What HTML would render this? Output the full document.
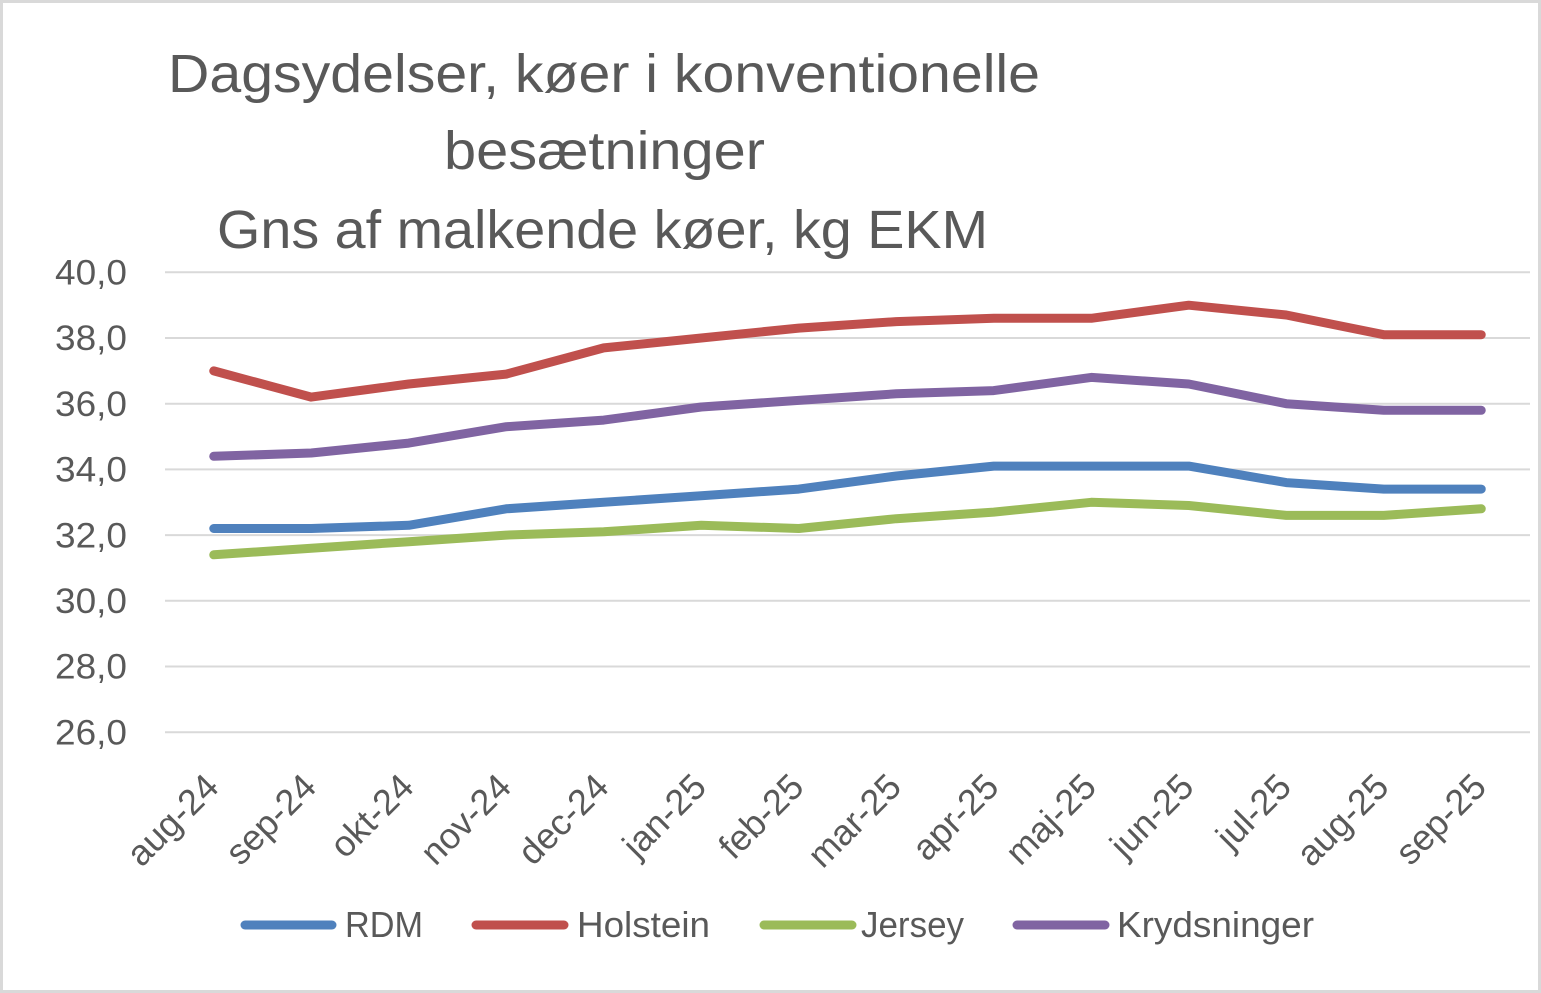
<!DOCTYPE html>
<html>
<head>
<meta charset="utf-8">
<style>
html,body{margin:0;padding:0;background:#fff;}
svg{display:block;}
text{font-family:"Liberation Sans",sans-serif;fill:#595959;}
</style>
</head>
<body>
<svg width="1541" height="993" viewBox="0 0 1541 993" xmlns="http://www.w3.org/2000/svg">
<rect x="0" y="0" width="1541" height="993" fill="#fff"/>
<rect x="1.5" y="1.5" width="1538" height="990" fill="none" stroke="#d9d9d9" stroke-width="3"/>

<!-- Title -->
<text x="168" y="92" font-size="54" textLength="872" lengthAdjust="spacingAndGlyphs">Dagsydelser, køer i konventionelle</text>
<text x="444" y="169" font-size="54" textLength="321" lengthAdjust="spacingAndGlyphs">besætninger</text>
<text x="217" y="248" font-size="54" textLength="771" lengthAdjust="spacingAndGlyphs">Gns af malkende køer, kg EKM</text>

<!-- Gridlines -->
<g stroke="#d9d9d9" stroke-width="2">
<line x1="165" y1="272.3" x2="1530" y2="272.3"/>
<line x1="165" y1="338" x2="1530" y2="338"/>
<line x1="165" y1="403.7" x2="1530" y2="403.7"/>
<line x1="165" y1="469.4" x2="1530" y2="469.4"/>
<line x1="165" y1="535.1" x2="1530" y2="535.1"/>
<line x1="165" y1="600.8" x2="1530" y2="600.8"/>
<line x1="165" y1="666.5" x2="1530" y2="666.5"/>
<line x1="165" y1="732.2" x2="1530" y2="732.2"/>
</g>

<!-- Y labels -->
<g font-size="35" text-anchor="end">
<text x="127" y="284.5" textLength="72" lengthAdjust="spacingAndGlyphs">40,0</text>
<text x="127" y="350.2" textLength="72" lengthAdjust="spacingAndGlyphs">38,0</text>
<text x="127" y="415.9" textLength="72" lengthAdjust="spacingAndGlyphs">36,0</text>
<text x="127" y="481.6" textLength="72" lengthAdjust="spacingAndGlyphs">34,0</text>
<text x="127" y="547.3" textLength="72" lengthAdjust="spacingAndGlyphs">32,0</text>
<text x="127" y="613" textLength="72" lengthAdjust="spacingAndGlyphs">30,0</text>
<text x="127" y="678.7" textLength="72" lengthAdjust="spacingAndGlyphs">28,0</text>
<text x="127" y="744.4" textLength="72" lengthAdjust="spacingAndGlyphs">26,0</text>
</g>

<!-- X labels -->
<g font-size="36" text-anchor="end">
<text transform="translate(220.75,789) rotate(-45)">aug-24</text>
<text transform="translate(318.25,789) rotate(-45)">sep-24</text>
<text transform="translate(415.75,789) rotate(-45)">okt-24</text>
<text transform="translate(513.25,789) rotate(-45)">nov-24</text>
<text transform="translate(610.75,789) rotate(-45)">dec-24</text>
<text transform="translate(708.25,789) rotate(-45)">jan-25</text>
<text transform="translate(805.75,789) rotate(-45)">feb-25</text>
<text transform="translate(903.25,789) rotate(-45)">mar-25</text>
<text transform="translate(1000.75,789) rotate(-45)">apr-25</text>
<text transform="translate(1098.25,789) rotate(-45)">maj-25</text>
<text transform="translate(1195.75,789) rotate(-45)">jun-25</text>
<text transform="translate(1293.25,789) rotate(-45)">jul-25</text>
<text transform="translate(1390.75,789) rotate(-45)">aug-25</text>
<text transform="translate(1488.25,789) rotate(-45)">sep-25</text>
</g>

<!-- Series -->
<g fill="none" stroke-width="9" stroke-linejoin="round" stroke-linecap="round">
<polyline stroke="#4f81bd" points="213.75,528.5 311.25,528.5 408.75,525.3 506.25,508.8 603.75,502.3 701.25,495.7 798.75,489.1 896.25,476.0 993.75,466.1 1091.25,466.1 1188.75,466.1 1286.25,482.6 1383.75,489.1 1481.25,489.1"/>
<polyline stroke="#c0504d" points="213.75,370.9 311.25,397.1 408.75,384.0 506.25,374.1 603.75,347.9 701.25,338.0 798.75,328.1 896.25,321.6 993.75,318.3 1091.25,318.3 1188.75,305.2 1286.25,315.0 1383.75,334.7 1481.25,334.7"/>
<polyline stroke="#9bbb59" points="213.75,554.8 311.25,548.2 408.75,541.7 506.25,535.1 603.75,531.8 701.25,525.3 798.75,528.5 896.25,518.7 993.75,512.1 1091.25,502.3 1188.75,505.5 1286.25,515.4 1383.75,515.4 1481.25,508.8"/>
<polyline stroke="#8064a2" points="213.75,456.3 311.25,453.0 408.75,443.1 506.25,426.7 603.75,420.1 701.25,407.0 798.75,400.4 896.25,393.8 993.75,390.6 1091.25,377.4 1188.75,384.0 1286.25,403.7 1383.75,410.3 1481.25,410.3"/>
</g>

<!-- Legend -->
<g stroke-width="9" stroke-linecap="round">
<line x1="245" y1="925" x2="332" y2="925" stroke="#4f81bd"/>
<line x1="476" y1="925" x2="564" y2="925" stroke="#c0504d"/>
<line x1="764" y1="925" x2="852" y2="925" stroke="#9bbb59"/>
<line x1="1017" y1="925" x2="1105" y2="925" stroke="#8064a2"/>
</g>
<g font-size="36">
<text x="345" y="937" textLength="78" lengthAdjust="spacingAndGlyphs">RDM</text>
<text x="577" y="937" textLength="133" lengthAdjust="spacingAndGlyphs">Holstein</text>
<text x="861" y="937" textLength="103" lengthAdjust="spacingAndGlyphs">Jersey</text>
<text x="1117" y="937" textLength="197" lengthAdjust="spacingAndGlyphs">Krydsninger</text>
</g>
</svg>
</body>
</html>
